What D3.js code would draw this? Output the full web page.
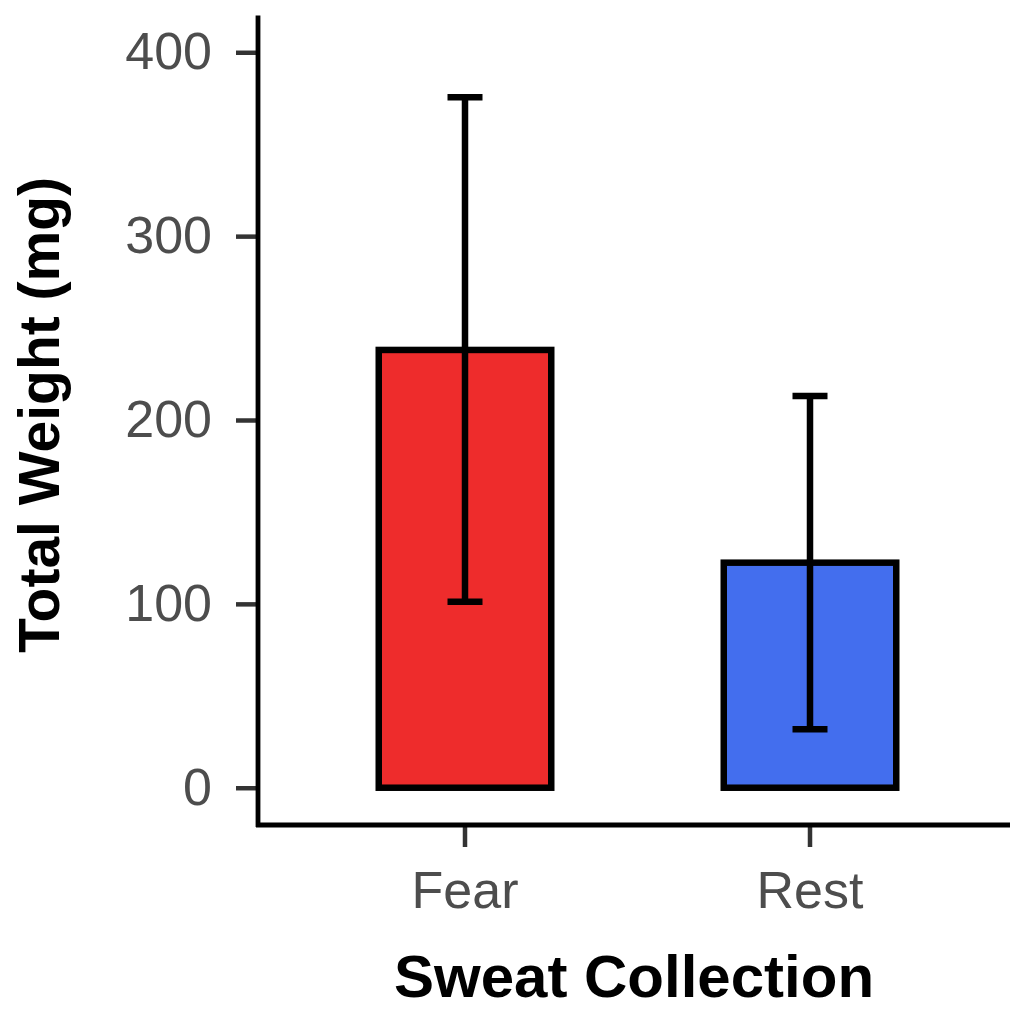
<!DOCTYPE html>
<html>
<head>
<meta charset="utf-8">
<script src="https://cdn.jsdelivr.net/npm/d3@7.9.0/dist/d3.min.js"></script>
<style>
  body { margin: 0; background: #fff; }
  svg { display: block; font-family: "Liberation Sans", Arial, sans-serif; }
</style>
</head>
<body>
<svg id="chart" width="1010" height="1016"></svg>
<script>
const categories = ['Fear', 'Rest'];
const means = [238.1, 122.4];
const upper = [375.5, 213.1];
const lower = [101.2, 31.8];
const colors = ['#EE2C2C', '#436EEE'];
const yTicks = [0, 100, 200, 300, 400];

const svg = d3.select('#chart');

let x = d3.scaleBand()
  .domain(categories)
  .range([258, 1017])
  .paddingInner(0.5)
  .paddingOuter(0.35);

let y = d3.scaleLinear()
  .domain([-20, 420])
  .range([824.5, 15.5]);

// bars
svg.selectAll('rect.bar')
  .data(categories)
  .join('rect')
  .attr('class', 'bar')
  .attr('x', (d) => x(d))
  .attr('width', x.bandwidth())
  .attr('y', (d, i) => y(means[i]))
  .attr('height', (d, i) => y(0) - y(means[i]))
  .attr('fill', (d, i) => colors[i])
  .attr('stroke', '#000')
  .attr('stroke-width', 6.5);

// error bars
let capHalf = 17.5;
categories.forEach((c, i) => {
  let cx = x(c) + x.bandwidth() / 2;
  let g = svg.append('g').attr('stroke', '#000').attr('stroke-width', 6.5);
  g.append('line')
    .attr('x1', cx).attr('x2', cx)
    .attr('y1', y(upper[i])).attr('y2', y(lower[i]));
  [upper[i], lower[i]].forEach((v) => {
    g.append('line')
      .attr('x1', cx - capHalf).attr('x2', cx + capHalf)
      .attr('y1', y(v)).attr('y2', y(v));
  });
});

// y axis
let yAxis = svg.append('g')
  .attr('transform', 'translate(258,0)')
  .call(d3.axisLeft(y).tickValues(yTicks).tickSize(22).tickPadding(24));
yAxis.select('.domain').remove();
yAxis.selectAll('.tick line').attr('stroke', '#333').attr('stroke-width', 4.5);
yAxis.selectAll('.tick text')
  .attr('fill', '#4d4d4d')
  .style('font-size', '52px')
  .style('font-family', '"Liberation Sans", Arial, sans-serif');

// x axis
let xAxis = svg.append('g')
  .attr('transform', 'translate(0,825)')
  .call(d3.axisBottom(x).tickSize(22).tickPadding(24));
xAxis.select('.domain').remove();
xAxis.selectAll('.tick line').attr('stroke', '#333').attr('stroke-width', 4.5);
xAxis.selectAll('.tick text')
  .attr('fill', '#4d4d4d')
  .style('font-size', '52px')
  .style('font-family', '"Liberation Sans", Arial, sans-serif');

// axis lines
svg.append('line')
  .attr('x1', 258).attr('x2', 258)
  .attr('y1', y(420)).attr('y2', 827)
  .attr('stroke', '#000').attr('stroke-width', 4.8);
svg.append('line')
  .attr('x1', 256).attr('x2', 1010)
  .attr('y1', 825).attr('y2', 825)
  .attr('stroke', '#000').attr('stroke-width', 4.8);

// titles
svg.append('text')
  .attr('x', 634).attr('y', 997)
  .attr('text-anchor', 'middle')
  .style('font-size', '60px')
  .style('font-weight', 'bold')
  .text('Sweat Collection');

svg.append('text')
  .attr('transform', 'translate(59,415) rotate(-90)')
  .attr('text-anchor', 'middle')
  .style('font-size', '57px')
  .style('font-weight', 'bold')
  .text('Total Weight (mg)');
</script>
</body>
</html>
